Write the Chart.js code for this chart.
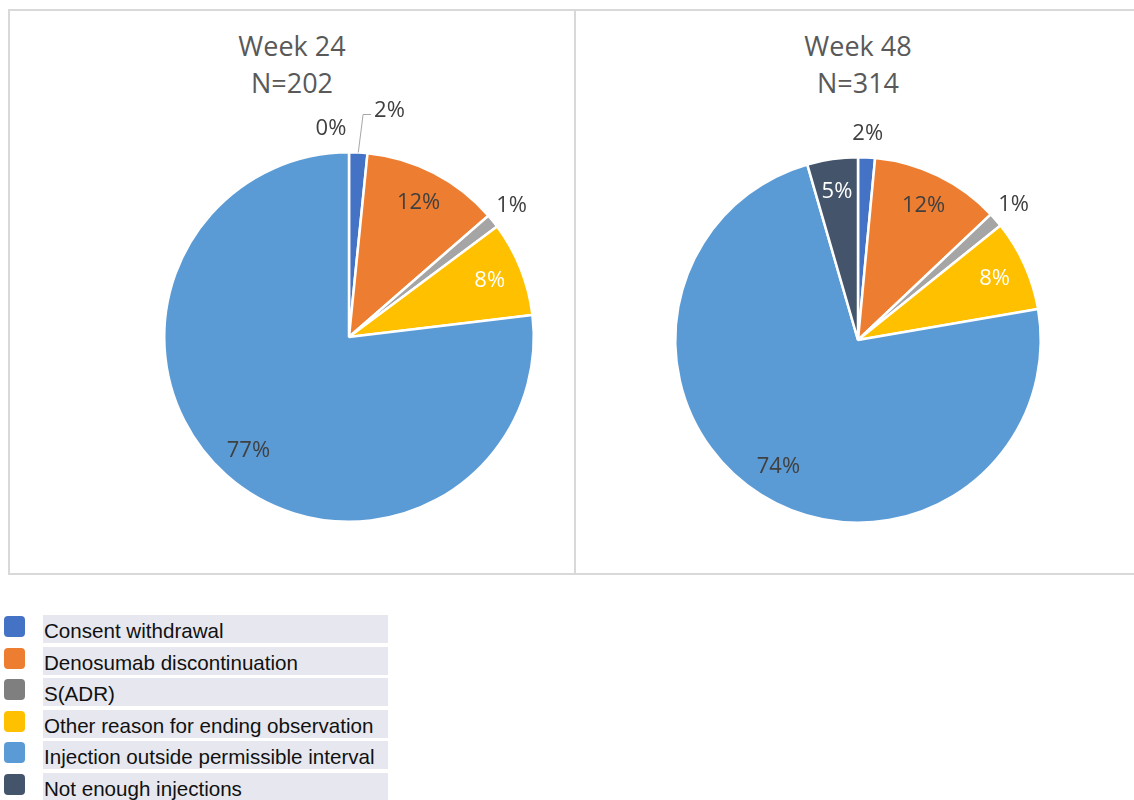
<!DOCTYPE html>
<html>
<head>
<meta charset="utf-8">
<script src="https://cdn.jsdelivr.net/npm/chart.js@4"></script>
<style>
  body { margin: 0; background: #fff; width: 1134px; height: 800px; overflow: hidden; position: relative; }
  .panel { position: absolute; top: 9px; height: 566px; border: 2px solid #d9d9d9; box-sizing: border-box; }
  #panel1 { left: 8px; width: 568px; }
  #panel2 { left: 574px; width: 568px; }
  .title { position: absolute; left: 0; right: 0; top: 16px; text-align: center;
    font-family: "Open Sans", sans-serif; font-size: 27px; line-height: 37px; color: #595959; }
  .panel canvas { position: absolute; left: 0; top: 0; }
  #legend { position: absolute; left: 4px; top: 615px; font-family: "Liberation Sans", Arial, sans-serif; }
  .row { position: relative; height: 28px; margin-bottom: 3.5px; }
  .box { position: absolute; left: 0; top: 1px; width: 21px; height: 21px; border-radius: 4px; }
  .lbl { position: absolute; left: 39px; top: 0; width: 345px; height: 28px; background: #e7e8ef; }
  .lbl span { display: inline-block; font-size: 21px; line-height: 32px; color: #111; padding-left: 1px;
    white-space: nowrap; transform: scaleX(0.98); transform-origin: left center; }
</style>
</head>
<body>
<div class="panel" id="panel1">
  <div class="title" id="title1"></div>
  <canvas id="chart1"></canvas>
</div>
<div class="panel" id="panel2">
  <div class="title" id="title2"></div>
  <canvas id="chart2"></canvas>
</div>
<div id="legend"></div>
<script>
const categories = ['Consent withdrawal',
    'Denosumab discontinuation',
    'S(ADR)',
    'Other reason for ending observation',
    'Injection outside permissible interval',
    'Not enough injections'];

const colors = ['#4472C4', '#ED7D31', '#A5A5A5', '#FFC000', '#5B9BD5', '#44546A'];
// the legend swatch for S(ADR) is a darker grey than its slice
const legendColors = ['#4472C4', '#ED7D31', '#7F7F7F', '#FFC000', '#5B9BD5', '#44546A'];

// percentages per category
const week24Values = [1.6, 12.0, 1.2, 8.3, 76.9, 0];
const week48Values = [1.5, 11.5, 1.3, 8.1, 73.6, 4.5];

const week24Title = ['Week 24', 'N=202'];
const week48Title = ['Week 48', 'N=314'];

const labelColors = ['#404040', '#404040', '#404040', '#ffffff', '#404040', '#ffffff'];

// draws the % labels, inside or outside the slice
const sliceLabelsPlugin = {
    id: 'sliceLabels',
    afterDatasetsDraw: function (chart, args, opts) {
        const { ctx } = chart;
        const meta = chart.getDatasetMeta(0);
        const values = chart.data.datasets[0].data;
        ctx.save();
        ctx.font = '22px "Open Sans", sans-serif';
        ctx.textAlign = 'center';
        ctx.textBaseline = 'middle';
        meta.data.forEach((arc, i) => {
            const { x, y, startAngle, endAngle, outerRadius } = arc.getProps(['x', 'y', 'startAngle', 'endAngle', 'outerRadius'], true);
            const mid = (startAngle + endAngle) / 2;
            const outside = opts.outside[i];
            const f = outside ? 1.13 : 0.82;
            const nudge = (opts.nudge && opts.nudge[i]) || [0, 0];
            const lx = x + Math.cos(mid) * outerRadius * f + nudge[0];
            const ly = y + Math.sin(mid) * outerRadius * f + nudge[1];
            const text = Math.round(values[i]) + '%';
            if (opts.leader && opts.leader[i]) {
                // leader line from the slice edge to the moved label
                const w = ctx.measureText(text).width;
                const ex = lx - w / 2 - 3;
                ctx.beginPath();
                ctx.moveTo(x + Math.cos(mid) * outerRadius, y + Math.sin(mid) * outerRadius);
                ctx.lineTo(ex - 8, ly + 4);
                ctx.lineTo(ex, ly + 4);
                ctx.strokeStyle = '#a6a6a6';
                ctx.lineWidth = 1;
                ctx.stroke();
            }
            ctx.fillStyle = outside ? '#404040' : labelColors[i];
            ctx.fillText(text, lx, ly);
        });
        ctx.restore();
    }
};

function buildPie(id, values, padding, labelOpts) {
    const canvas = document.getElementById(id);
    canvas.width = 564;
    canvas.height = 562;
    canvas.style.width = '564px';
    canvas.style.height = '562px';
    return new Chart(canvas, {
        type: 'pie',
        data: {
            labels: categories,
            datasets: [{
                data: values,
                backgroundColor: colors,
                borderColor: '#ffffff',
                borderWidth: 2.5
            }]
        },
        options: {
            responsive: false,
            animation: false,
            layout: { padding: padding },
            plugins: {
                legend: { display: false },
                tooltip: { enabled: false },
                sliceLabels: labelOpts
            }
        },
        plugins: [sliceLabelsPlugin]
    });
}

document.getElementById('title1').innerHTML = week24Title.join('<br>');
document.getElementById('title2').innerHTML = week48Title.join('<br>');

buildPie('chart1', week24Values, { left: 150, right: 36, top: 140, bottom: 50 }, {
    outside: [true, false, true, false, false, true],
    nudge: [[30, -18], null, null, null, null, [-18, 1]],
    leader: [true, false, false, false, false, false]
});
buildPie('chart2', week48Values, { left: 96, right: 96, top: 145, bottom: 49 }, {
    outside: [true, false, true, false, false, false],
    nudge: [],
    leader: []
});

// legend rows
const legendEl = document.getElementById('legend');
categories.forEach((name, i) => {
    const row = document.createElement('div');
    row.className = 'row';
    row.innerHTML = '<div class="box" style="background:' + legendColors[i] + '"></div><div class="lbl"><span>' + name + '</span></div>';
    legendEl.appendChild(row);
});
</script>
</body>
</html>
